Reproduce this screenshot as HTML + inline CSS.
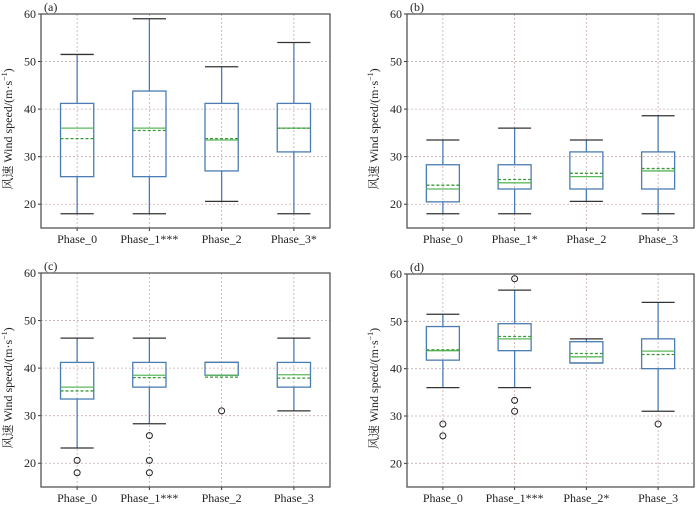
<!DOCTYPE html>
<html><head><meta charset="utf-8"><style>
html,body{margin:0;padding:0;background:#fff;width:700px;height:510px;overflow:hidden}
svg{display:block}
svg text{font-family:"Liberation Serif","Noto Serif CJK SC",serif}
</style></head><body>
<svg id="chart" width="700" height="510"></svg>
<script>
const categoriesA = ["Phase_0","Phase_1***","Phase_2","Phase_3*"];
const categoriesB = ["Phase_0","Phase_1*","Phase_2","Phase_3"];
const categoriesC = ["Phase_0","Phase_1***","Phase_2","Phase_3"];
const categoriesD = ["Phase_0","Phase_1***","Phase_2*","Phase_3"];
const yTicks = [20,30,40,50,60];
// [whiskerLow, q1, median, mean, q3, whiskerHigh]
const statsA = [[18,25.8,36,33.8,41.2,51.5],[18,25.8,36,35.5,43.8,59],[20.6,27,33.5,33.8,41.2,48.9],[18,31,36,36,41.2,54]];
const statsB = [[18,20.5,23.2,24,28.3,33.5],[18,23.2,24.5,25.2,28.3,36],[20.6,23.2,25.8,26.5,31,33.5],[18,23.2,27,27.5,31,38.6]];
const statsC = [[23.2,33.5,36,35.2,41.2,46.3],[28.3,36,38.5,38,41.2,46.3],[38.5,38.5,38.5,38.1,41.2,41.2],[31,36,38.6,37.9,41.2,46.3]];
const statsD = [[36,41.8,43.8,44,48.9,51.5],[36,43.8,46.3,46.8,49.5,56.6],[41.2,41.2,42.5,43.2,45.7,46.3],[31,40,43.7,43,46.3,54]];
const outliersA = [[],[],[],[]];
const outliersB = [[],[],[],[]];
const outliersC = [[20.6,18],[25.8,20.6,18],[31],[]];
const outliersD = [[28.3,25.8],[59,33.3,31],[],[28.3]];

const NS="http://www.w3.org/2000/svg";
const svg=document.getElementById('chart');
const FF='Liberation Serif, Noto Serif CJK SC, serif';
function mk(tag,attrs,parent){const e=document.createElementNS(NS,tag);for(const k in attrs)e.setAttribute(k,attrs[k]);if(tag==='text')e.setAttribute('font-family',FF);(parent||svg).appendChild(e);return e;}

function panel(label,x0,x1,y0,y1,cats,stats,outs){
  const g=mk('g',{});
  
  
  const yMin=15,yMax=60;
  const ys=v=>y1-(v-yMin)/(yMax-yMin)*(y1-y0);
  const step=(x1-x0)/cats.length;
  const xs=i=>x0+step*(i+0.5);
  const bw=step*0.46;
  yTicks.forEach(t=>{
    const l=mk('line',{x1:x0,x2:x1,y1:ys(t),y2:ys(t),stroke:'#c8adad','stroke-width':0.8,'stroke-dasharray':'2,2'},g);
    
    
    const tx=mk('text',{x:x0-5,y:ys(t)+4,'text-anchor':'end','font-size':12,fill:'#222'},g);
    tx.textContent=t;
    
    
    mk('line',{x1:x0-3,x2:x0,y1:ys(t),y2:ys(t),stroke:'#333'},g);
  });
  cats.forEach((c,i)=>{
    const l=mk('line',{x1:xs(i),x2:xs(i),y1:y0,y2:y1,stroke:'#c8adad','stroke-width':0.8,'stroke-dasharray':'2,2'},g);
    
    
    mk('line',{x1:xs(i),x2:xs(i),y1:y1,y2:y1+3,stroke:'#333'},g);
    const tx=mk('text',{x:xs(i),y:y1+15,'text-anchor':'middle','font-size':12,fill:'#222'},g);
    tx.textContent=c;
    
    
  });
  stats.forEach((s,i)=>{
    const [wl,q1,med,mean,q3,wh]=s;const cx=xs(i);
    const bg=mk('g',{},g);
    
    
    mk('line',{x1:cx,x2:cx,y1:ys(wl),y2:ys(q1),stroke:'#4a7db3','stroke-width':1.3},bg);
    mk('line',{x1:cx,x2:cx,y1:ys(q3),y2:ys(wh),stroke:'#4a7db3','stroke-width':1.3},bg);
    mk('line',{x1:cx-bw/2,x2:cx+bw/2,y1:ys(wl),y2:ys(wl),stroke:'#333','stroke-width':1.3},bg);
    mk('line',{x1:cx-bw/2,x2:cx+bw/2,y1:ys(wh),y2:ys(wh),stroke:'#333','stroke-width':1.3},bg);
    mk('rect',{x:cx-bw/2,y:ys(q3),width:bw,height:ys(q1)-ys(q3),fill:'none',stroke:'#4a7db3','stroke-width':1.3},bg);
    mk('line',{x1:cx-bw/2,x2:cx+bw/2,y1:ys(med),y2:ys(med),stroke:'#5cb85c','stroke-width':1.3},bg);
    mk('line',{x1:cx-bw/2,x2:cx+bw/2,y1:ys(mean),y2:ys(mean),stroke:'#3a9a3a','stroke-width':1.3,'stroke-dasharray':'3,2'},bg);
    outs[i].forEach(o=>{
      const c=mk('circle',{cx:cx,cy:ys(o),r:3,fill:'none',stroke:'#222','stroke-width':1},bg);
      
      
    });
  });
  const fr=mk('rect',{x:x0,y:y0,width:x1-x0,height:y1-y0,fill:'none',stroke:'#555','stroke-width':1.3},g);
  
  
  const pl=mk('text',{x:x0+3,y:y0-3,'font-size':12,fill:'#222'},g);
  pl.textContent='('+label+')';
  
  
  const yl=mk('text',{transform:`translate(${x0-29},${(y0+y1)/2+8}) rotate(-90)`,'text-anchor':'middle','font-size':12,fill:'#222'},g);
  yl.innerHTML='风速 Wind speed/(m·s<tspan dy="-5" font-size="8">−1</tspan><tspan dy="5">)</tspan>';
  
  
}
panel('a',41,330,14,228,categoriesA,statsA,outliersA);
panel('b',407,694,14,228,categoriesB,statsB,outliersB);
panel('c',41,330,273,487,categoriesC,statsC,outliersC);
panel('d',407,694,274,487,categoriesD,statsD,outliersD);
</script>
</body></html>
